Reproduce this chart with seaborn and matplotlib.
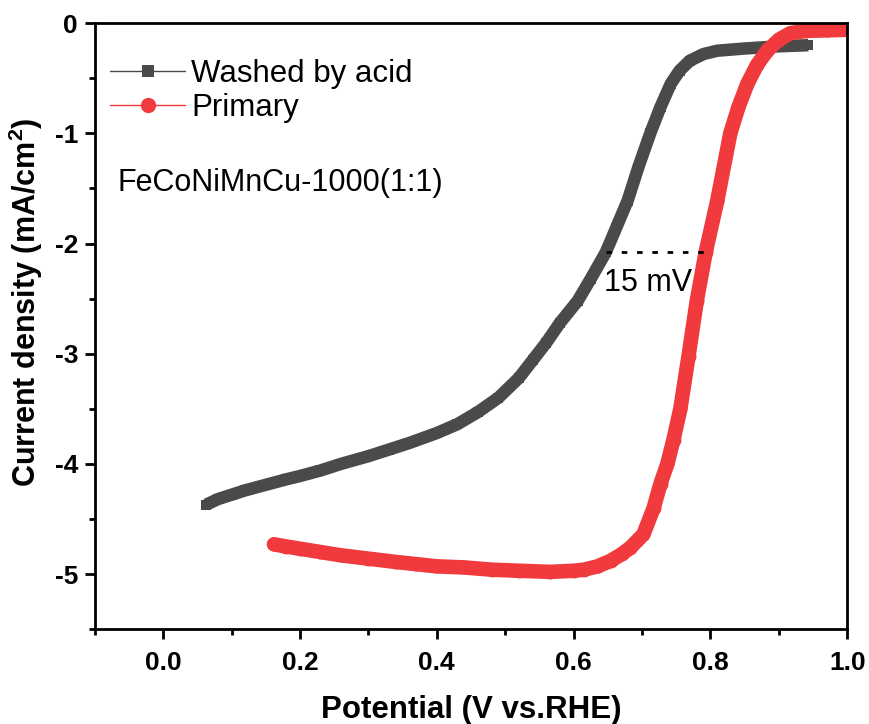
import pandas as pd
import matplotlib
matplotlib.use("Agg")
import matplotlib.pyplot as plt
from matplotlib.lines import Line2D
import seaborn as sns

# LSV curves
washed_x = [0.063, 0.08, 0.10, 0.12, 0.15, 0.18, 0.20, 0.23, 0.26, 0.30, 0.33, 0.36,
            0.40, 0.43, 0.46, 0.49, 0.52, 0.54, 0.56, 0.58, 0.606, 0.625, 0.647, 0.662,
            0.679, 0.695, 0.712, 0.727, 0.742, 0.755, 0.77, 0.79, 0.81, 0.85, 0.90, 0.943]
washed_y = [-4.37, -4.32, -4.28, -4.24, -4.19, -4.14, -4.11, -4.06, -4.00, -3.93, -3.87, -3.81,
            -3.72, -3.64, -3.53, -3.40, -3.22, -3.06, -2.90, -2.72, -2.52, -2.32, -2.08, -1.86,
            -1.61, -1.30, -1.00, -0.76, -0.55, -0.43, -0.34, -0.28, -0.25, -0.23, -0.21, -0.20]

primary_x = [0.162, 0.18, 0.20, 0.23, 0.26, 0.30, 0.34, 0.37, 0.40, 0.44, 0.48, 0.52,
             0.566, 0.60, 0.615, 0.635, 0.654, 0.67, 0.683, 0.702, 0.717, 0.727, 0.737,
             0.746, 0.756, 0.768, 0.78, 0.793, 0.81, 0.829, 0.841, 0.854, 0.868, 0.883,
             0.90, 0.917, 0.94, 0.97, 1.00]
primary_y = [-4.73, -4.75, -4.77, -4.80, -4.83, -4.86, -4.89, -4.91, -4.93, -4.94, -4.96, -4.97,
             -4.98, -4.97, -4.96, -4.93, -4.88, -4.82, -4.76, -4.64, -4.40, -4.18, -4.00,
             -3.78, -3.50, -3.02, -2.52, -2.08, -1.61, -1.00, -0.76, -0.55, -0.38, -0.25,
             -0.15, -0.09, -0.07, -0.065, -0.06]

# 15 mV marker line
gap_x = [0.647, 0.793]
gap_y = -2.08

gray = "#4a4a4a"
red = "#f03a3d"

sns.set_style("ticks")
plt.rcParams['font.family'] = ['Liberation Sans', 'DejaVu Sans']
plt.rcParams['mathtext.fontset'] = 'custom'
plt.rcParams['mathtext.rm'] = 'Liberation Sans'
plt.rcParams['mathtext.bf'] = 'Liberation Sans:bold'
for k in ['text.color', 'axes.labelcolor', 'xtick.color', 'ytick.color']:
    plt.rcParams[k] = 'black'

fig = plt.figure(figsize=(8.69, 7.24), dpi=100)
ax = fig.add_axes([0.109, 0.131, 0.866, 0.837])

df_w = pd.DataFrame({'x': washed_x, 'y': washed_y})
df_p = pd.DataFrame({'x': primary_x, 'y': primary_y})

sns.lineplot(data=df_w, x='x', y='y', ax=ax, color=gray, lw=9, sort=False,
             marker='s', markersize=7, markeredgewidth=0, solid_capstyle='butt')
sns.lineplot(data=df_p, x='x', y='y', ax=ax, color=red, lw=10.5, sort=False,
             marker='o', markersize=10, markeredgewidth=0, solid_capstyle='round',
             solid_joinstyle='round')

ax.plot(gap_x, [gap_y, gap_y], color='black', lw=2, linestyle=(0, (2, 3.5)))
ax.text(0.644, -2.36, '15 mV', fontsize=22, ha='left', va='center')
ax.text(-0.066, -1.45, 'FeCoNiMnCu-1000(1:1)', fontsize=22, ha='left', va='center')

handles = [
    Line2D([], [], color=gray, lw=1, marker='s', markersize=9, markeredgewidth=0),
    Line2D([], [], color=red, lw=1, marker='o', markersize=11, markeredgewidth=0),
]
ax.legend(handles, ['Washed by acid', 'Primary'], loc='upper left', frameon=False,
          fontsize=22.5, handlelength=2.4, handletextpad=0.2, labelspacing=0.15,
          borderaxespad=0.0, bbox_to_anchor=(0.004, 0.962))

ax.set_xlim(-0.1, 1.0)
ax.set_ylim(-5.5, 0)
ax.set_xticks([0.0, 0.2, 0.4, 0.6, 0.8, 1.0])
ax.set_xticks([-0.1, 0.1, 0.3, 0.5, 0.7, 0.9], minor=True)
ax.set_yticks([0, -1, -2, -3, -4, -5])
ax.set_yticks([-0.5, -1.5, -2.5, -3.5, -4.5, -5.5], minor=True)
ax.set_xticklabels(['0.0', '0.2', '0.4', '0.6', '0.8', '1.0'], fontweight='bold', fontsize=19)
ax.set_yticklabels(['0', '-1', '-2', '-3', '-4', '-5'], fontweight='bold', fontsize=19)
ax.tick_params(which='major', direction='out', length=7, width=2, pad=9)
ax.tick_params(which='minor', direction='out', length=4, width=2)
ax.tick_params(axis='y', which='major', pad=5)
for s in ax.spines.values():
    s.set_linewidth(2)
    s.set_color('black')

ax.set_xlabel('Potential (V vs.RHE)', fontsize=22.5, fontweight='bold', labelpad=14)
ax.set_ylabel(r'Current density (mA/cm$^\mathbf{2}$)', fontsize=22, fontweight='bold')
ax.yaxis.set_label_coords(-0.066, 0.54)

fig.savefig('out.png', dpi=100)
